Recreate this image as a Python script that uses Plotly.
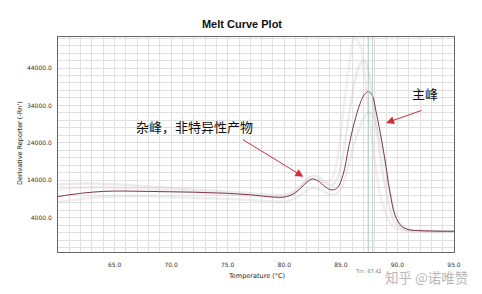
import plotly.graph_objects as go

# ---- data ----
temps = [60, 61, 62, 63, 64, 65, 66, 67, 68, 69, 70, 71, 72, 73, 74, 75, 76, 77, 78, 79, 80,
         80.8, 81.5, 82, 82.5, 83, 83.6, 84.2, 84.7, 85.2, 85.7, 86.2, 86.7, 87.1, 87.45, 87.8,
         88.1, 88.4, 88.76, 89.0, 89.2, 89.45, 89.65, 89.9, 90.24, 90.6, 91.1, 92, 93, 94, 95]

main_curve = [9600, 10100, 10500, 10800, 11000, 11100, 11100, 11050, 11000, 10950, 10900, 10850,
              10800, 10700, 10600, 10500, 10300, 10100, 9800, 9500, 9500,
              10300, 12000, 13500, 14300, 13800, 12300, 11400, 12000, 15500, 23000, 29500, 34500,
              37000, 37700, 36500, 32500, 28000, 22000, 17500, 13200, 9000, 6000, 3800, 2050,
              1200, 700, 500, 400, 350, 350]

bg_upper = [12800, 13000, 13100, 13100, 13000, 12900, 12700, 12500, 12300, 12100, 11900, 11700,
            11500, 11300, 11100, 10900, 10700, 10500, 10300, 10100, 10100,
            10900, 12600, 14200, 15200, 14800, 13400, 12600, 14500, 21000, 31000, 40000, 45000,
            46000, 43000, 36000, 29000, 22000, 15000, 11000, 8000, 5200, 3500, 2200, 1300,
            800, 500, 350, 300, 250, 250]

bg_early = [11500, 11800, 12000, 12100, 12100, 12000, 11900, 11800, 11600, 11400, 11200, 11000,
            10800, 10600, 10400, 10200, 10000, 9800, 9600, 9400, 9500,
            10500, 12500, 14000, 14500, 14000, 13500, 14500, 20000, 32000, 44000, 52000, 50000,
            42000, 33000, 24000, 17000, 11000, 7000, 4800, 3400, 2200, 1500, 1000, 700,
            500, 350, 250, 200, 200, 200]

bg_lower = [8200, 8600, 9000, 9300, 9500, 9600, 9700, 9700, 9700, 9600, 9500, 9400, 9300, 9200,
            9100, 9000, 8900, 8700, 8500, 8300, 8300,
            8900, 10200, 11400, 12000, 11700, 10700, 10200, 10600, 13000, 18500, 24000, 28500,
            31000, 32000, 31500, 29000, 25500, 20500, 16500, 12800, 9200, 6500, 4300, 2500,
            1500, 850, 550, 450, 400, 400]

x_tick_vals = [65, 70, 75, 80, 85, 90, 95]
x_tick_text = ["65.0", "70.0", "75.0", "80.0", "85.0", "90.0", "95.0"]
y_tick_vals = [4000, 14000, 24000, 34000, 44000]
y_tick_text = ["4000.0", "14000.0", "24000.0", "34000.0", "44000.0"]
tm_values = [87.42, 87.8]

W, H = 482, 294
L, R, T, B = 58, 28, 37, 42
pw, ph = W - L - R, H - T - B

def px(xp, yp):
    return (xp - L) / pw, (H - B - yp) / ph

fig = go.Figure()
bg_styles = [(bg_upper, "rgba(200,200,200,0.35)"),
             (bg_early, "rgba(225,200,205,0.3)"),
             (bg_lower, "rgba(205,205,205,0.35)")]
for vals, col in bg_styles:
    fig.add_trace(go.Scatter(x=temps, y=vals, mode="lines",
                             line=dict(color=col, width=2.5, shape="spline"),
                             hoverinfo="skip", showlegend=False))
fig.add_trace(go.Scatter(x=temps, y=main_curve, mode="lines",
                         line=dict(color="#7a3848", width=1, shape="spline"),
                         showlegend=False))

tm_colors = ["rgba(150,190,160,0.8)", "rgba(190,200,195,0.8)"]
for tv, c in zip(tm_values, tm_colors):
    fig.add_shape(type="line", x0=tv, x1=tv, y0=0, y1=1, xref="x", yref="paper",
                  line=dict(color=c, width=1))

grid = "#e0e0e0"
tick_font = dict(family="DejaVu Sans", size=6, color="#333333")
fig.update_xaxes(range=[60, 95], tickmode="array", tickvals=x_tick_vals, ticktext=x_tick_text,
                 showgrid=True, gridcolor=grid, gridwidth=1,
                 minor=dict(dtick=1, tick0=60, showgrid=True, gridcolor=grid, gridwidth=1),
                 showline=True, mirror=True, linecolor="#666666", linewidth=1,
                 ticks="", zeroline=False, tickfont=tick_font, ticklabelstandoff=7)
fig.update_yaxes(range=[-5200, 52300], tickmode="array", tickvals=y_tick_vals, ticktext=y_tick_text,
                 showgrid=True, gridcolor=grid, gridwidth=1,
                 minor=dict(dtick=2000, tick0=0, showgrid=True, gridcolor=grid, gridwidth=1),
                 showline=True, mirror=True, linecolor="#666666", linewidth=1,
                 ticks="", zeroline=False, tickfont=tick_font, ticklabelstandoff=4)

ann = []
# arrows
arrow_col = "#d0303e"
ann.append(dict(x=81.69, y=14930, xref="x", yref="y", ax=-62, ay=-38, text="",
                showarrow=True, arrowhead=2, arrowsize=1.6, arrowwidth=1, arrowcolor=arrow_col))
ann.append(dict(x=89.0, y=29330, xref="x", yref="y", ax=37, ay=-13, text="",
                showarrow=True, arrowhead=2, arrowsize=1.6, arrowwidth=1, arrowcolor=arrow_col))
# texts
x1, y1 = px(194, 127)
ann.append(dict(x=x1, y=y1, xref="paper", yref="paper", text="杂峰，非特异性产物", showarrow=False,
                font=dict(family="Noto Sans CJK SC", size=13, color="#111111"),
                xanchor="center", yanchor="middle"))
x2, y2 = px(425, 93)
ann.append(dict(x=x2, y=y2, xref="paper", yref="paper", text="主峰", showarrow=False,
                font=dict(family="Noto Sans CJK SC", size=13, color="#111111"),
                xanchor="center", yanchor="middle"))
# axis titles
xt, yt = px(256, 276)
ann.append(dict(x=xt, y=yt, xref="paper", yref="paper", text="Temperature (°C)", showarrow=False,
                font=dict(family="DejaVu Sans", size=6.5, color="#222222"),
                xanchor="center", yanchor="middle"))
xy, yy = px(20, 143)
ann.append(dict(x=xy, y=yy, xref="paper", yref="paper", text="Derivative Reporter (-Rn')",
                showarrow=False, textangle=-90,
                font=dict(family="DejaVu Sans", size=6.5, color="#222222"),
                xanchor="center", yanchor="middle"))
# Tm label
_, ytm = px(0, 271)
ann.append(dict(x=tm_values[0], y=ytm, xref="x", yref="paper", text="Tm: 87.42", showarrow=False,
                font=dict(family="DejaVu Sans", size=5, color="#777777"),
                xanchor="center", yanchor="middle"))
# watermark
xw, yw = px(426, 277)
ann.append(dict(x=xw, y=yw, xref="paper", yref="paper", text="知乎 @诺唯赞", showarrow=False,
                font=dict(family="Noto Sans CJK SC", size=13.5, color="#b8b8b8"),
                xanchor="center", yanchor="middle"))

fig.update_layout(
    width=W, height=H, margin=dict(l=L, r=R, t=T, b=B),
    paper_bgcolor="white", plot_bgcolor="white",
    title=dict(text="<b>Melt Curve Plot</b>", x=242 / W, xref="container", xanchor="center",
               y=1 - 24 / H, yref="container", yanchor="middle",
               font=dict(family="Liberation Sans", size=11, color="#111111")),
    annotations=ann,
)
fig.write_html("out.html")
